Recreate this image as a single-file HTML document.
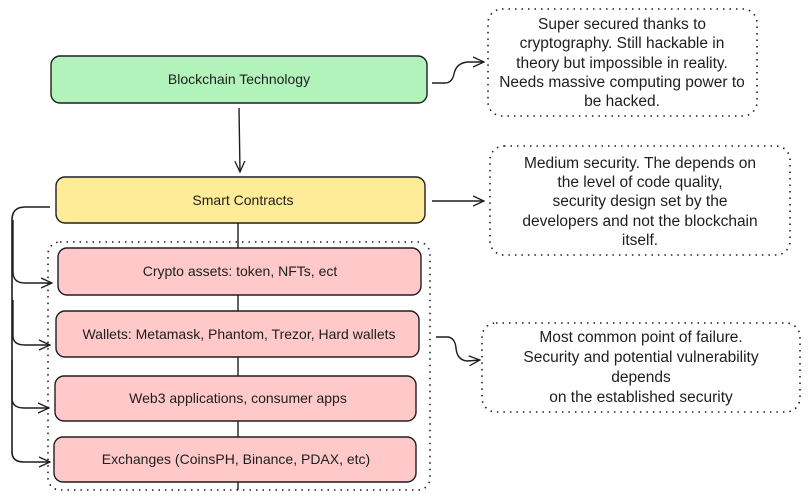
<!DOCTYPE html>
<html><head><meta charset="utf-8"><style>
html,body{margin:0;padding:0;background:#fff;}
svg{display:block;}
text{font-family:"Liberation Sans",sans-serif;fill:#1e1e1e;}
.b{font-size:14px;}
.n{font-size:15.5px;}
</style></head><body>
<svg width="810" height="501" viewBox="0 0 810 501" xmlns="http://www.w3.org/2000/svg">
<defs>
<marker id="ah" markerWidth="12" markerHeight="12" refX="11" refY="6" orient="auto" markerUnits="userSpaceOnUse">
<path d="M0,1 L11,6 L0,11" fill="none" stroke="#1e1e1e" stroke-width="1.3"/>
</marker>
</defs>
<g stroke="#1e1e1e" stroke-width="1.4" fill="none">
<rect x="51" y="56" width="376" height="47" rx="9" fill="#b2f2bb"/>
<path d="M239 108 L240 172" marker-end="url(#ah)"/>
<rect x="56" y="177" width="369" height="46" rx="9" fill="#ffec99"/>
<rect x="48" y="242" width="382" height="248" rx="12" stroke-dasharray="1.5 5" stroke-width="1.6"/>
<path d="M238 223 L238 490"/>
<rect x="58" y="248" width="363" height="47" rx="9" fill="#ffc9c9"/>
<rect x="56" y="311" width="363" height="46" rx="9" fill="#ffc9c9"/>
<rect x="55" y="376" width="361" height="45" rx="9" fill="#ffc9c9"/>
<rect x="54" y="437" width="362" height="45" rx="9" fill="#ffc9c9"/>
<path d="M50 207 L25 207 Q12 207 12 220 L12 452 Q12 462 24 462 L50 462" stroke-width="1.6" marker-end="url(#ah)"/>
<path d="M13 220 L13 272 Q13 283 25 283 L52 283" marker-end="url(#ah)"/>
<path d="M13 300 L13 336 Q13 345 25 345 L50 345" marker-end="url(#ah)"/>
<path d="M12 360 L12 398 Q12 408 24 408 L49 408" marker-end="url(#ah)"/>
<path d="M432 83 L445 83 Q452 83 454 74 Q456 63 468 62 L484 62" marker-end="url(#ah)"/>
<path d="M432 201 L484 201" marker-end="url(#ah)"/>
<path d="M436 337 L448 337 Q455 338 456 348 Q457 360 467 361 L480 360" marker-end="url(#ah)"/>
<rect x="488" y="9" width="269" height="107" rx="14" stroke-dasharray="1.5 5" stroke-width="1.6"/>
<rect x="490" y="146" width="300" height="109" rx="14" stroke-dasharray="1.5 5" stroke-width="1.6"/>
<rect x="482" y="323" width="318" height="89" rx="14" stroke-dasharray="1.5 5" stroke-width="1.6"/>
</g>
<g text-anchor="middle">
<text class="b" x="239" y="84">Blockchain Technology</text>
<text class="b" x="243" y="205">Smart Contracts</text>
<text class="b" x="240" y="276">Crypto assets: token, NFTs, ect</text>
<text class="b" x="239" y="339">Wallets: Metamask, Phantom, Trezor, Hard  wallets</text>
<text class="b" x="238" y="403">Web3 applications, consumer apps</text>
<text class="b" x="236" y="464">Exchanges (CoinsPH, Binance, PDAX, etc)</text>
<text class="n" x="622" y="29">Super secured thanks to</text>
<text class="n" x="622" y="48">cryptography. Still hackable in</text>
<text class="n" x="622" y="68">theory but impossible in reality.</text>
<text class="n" x="622" y="87">Needs massive computing power to</text>
<text class="n" x="622" y="106">be hacked.</text>
<text class="n" x="640" y="168">Medium security. The depends on</text>
<text class="n" x="640" y="187">the level of code quality,</text>
<text class="n" x="640" y="206">security design set by the</text>
<text class="n" x="640" y="226">developers and not the blockchain</text>
<text class="n" x="640" y="245">itself.</text>
<text class="n" x="641" y="342">Most common point of failure.</text>
<text class="n" x="641" y="362">Security and potential vulnerability</text>
<text class="n" x="641" y="382">depends</text>
<text class="n" x="641" y="402">on the established security</text>
</g>
</svg>
</body></html>
